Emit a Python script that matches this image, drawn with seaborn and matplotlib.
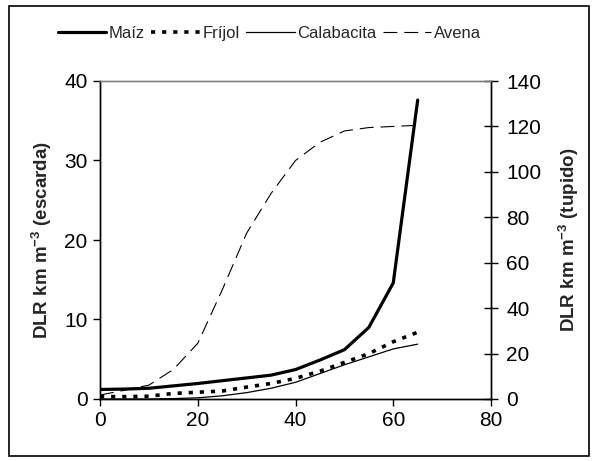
import pandas as pd
import seaborn as sns
import matplotlib.pyplot as plt
from matplotlib.patches import Rectangle

# days (x axis)
dias = [0, 5, 10, 15, 20, 25, 30, 35, 40, 45, 50, 55, 60, 65]

# left axis, DLR km m-3 (escarda)
maiz = [1.2, 1.25, 1.35, 1.65, 1.95, 2.3, 2.65, 3.0, 3.7, 4.9, 6.2, 9.0, 14.6, 37.6]
frijol = [0.3, 0.3, 0.35, 0.7, 0.85, 1.0, 1.5, 1.95, 2.6, 3.5, 4.6, 5.7, 7.2, 8.4]
calabacita = [0.0, 0.0, 0.0, 0.05, 0.15, 0.4, 0.8, 1.35, 2.1, 3.2, 4.3, 5.3, 6.3, 6.9]

# right axis, DLR km m-3 (tupido)
avena = [1.75, 3.85, 6.1, 13.0, 24.5, 48.0, 73.0, 90.5, 105.0, 113.0, 118.0, 119.5, 120.0, 120.5]

x_ticks = [0, 20, 40, 60, 80]
left_ticks = [0, 10, 20, 30, 40]
right_ticks = [0, 20, 40, 60, 80, 100, 120, 140]

df = pd.DataFrame({"dias": dias, "maiz": maiz, "frijol": frijol,
                   "calabacita": calabacita, "avena": avena})

sns.set_theme(style="white")
plt.rcParams["font.family"] = ["Liberation Sans", "DejaVu Sans"]
plt.rcParams["lines.scale_dashes"] = False
plt.rcParams["mathtext.fontset"] = "custom"
plt.rcParams["mathtext.rm"] = "Liberation Sans"
plt.rcParams["mathtext.bf"] = "Liberation Sans:bold"

fig = plt.figure(figsize=(5.92, 4.61), dpi=100)
ax = fig.add_axes([100 / 592, 1 - 399 / 461, 391 / 592, 318 / 461])
ax2 = ax.twinx()

sns.lineplot(data=df, x="dias", y="maiz", ax=ax, color="black", lw=2.3, label="Maíz", legend=False)
sns.lineplot(data=df, x="dias", y="frijol", ax=ax, color="black", lw=2.6, label="Fríjol", legend=False)
ax.lines[-1].set_dashes([3, 5])
sns.lineplot(data=df, x="dias", y="calabacita", ax=ax, color="black", lw=0.9, label="Calabacita", legend=False)
sns.lineplot(data=df, x="dias", y="avena", ax=ax2, color="black", lw=0.8, label="Avena", legend=False)
ax2.lines[-1].set_dashes([10, 5])

ax.set_xlim(0, 80)
ax.set_ylim(0, 40)
ax2.set_ylim(0, 140)
ax.set_xticks(x_ticks)
ax.set_yticks(left_ticks)
ax2.set_yticks(right_ticks)
ax.set_xlabel("")
ax.set_ylabel("DLR km m$^{\\mathbf{-3}}$ (escarda)", fontsize=13.5, fontweight="bold", labelpad=7)
ax2.set_ylabel("DLR km m$^{\\mathbf{-3}}$ (tupido)", fontsize=13.5, fontweight="bold", labelpad=11)

for a in (ax, ax2):
    for s in a.spines.values():
        s.set_color("black")
        s.set_linewidth(1)
    a.spines["top"].set_color("#808080")
    a.tick_params(labelsize=15, colors="black", length=5, width=1)
ax.tick_params(axis="both", direction="out", left=True, bottom=True, pad=4)
ax2.tick_params(axis="y", direction="inout", right=True, length=10, pad=6)

h1, l1 = ax.get_legend_handles_labels()
h2, l2 = ax2.get_legend_handles_labels()
fig.legend(h1 + h2, l1 + l2, loc="center", bbox_to_anchor=(0.455, 1 - 33 / 461), ncol=4,
           frameon=False, fontsize=12, handlelength=2.9, columnspacing=0.4, handletextpad=0.15)

fig.patches.append(Rectangle((9 / 592, 5 / 461), 580 / 592, 450 / 461, transform=fig.transFigure,
                             fill=False, edgecolor="black", lw=1.2))

fig.savefig("out.png", dpi=100)
